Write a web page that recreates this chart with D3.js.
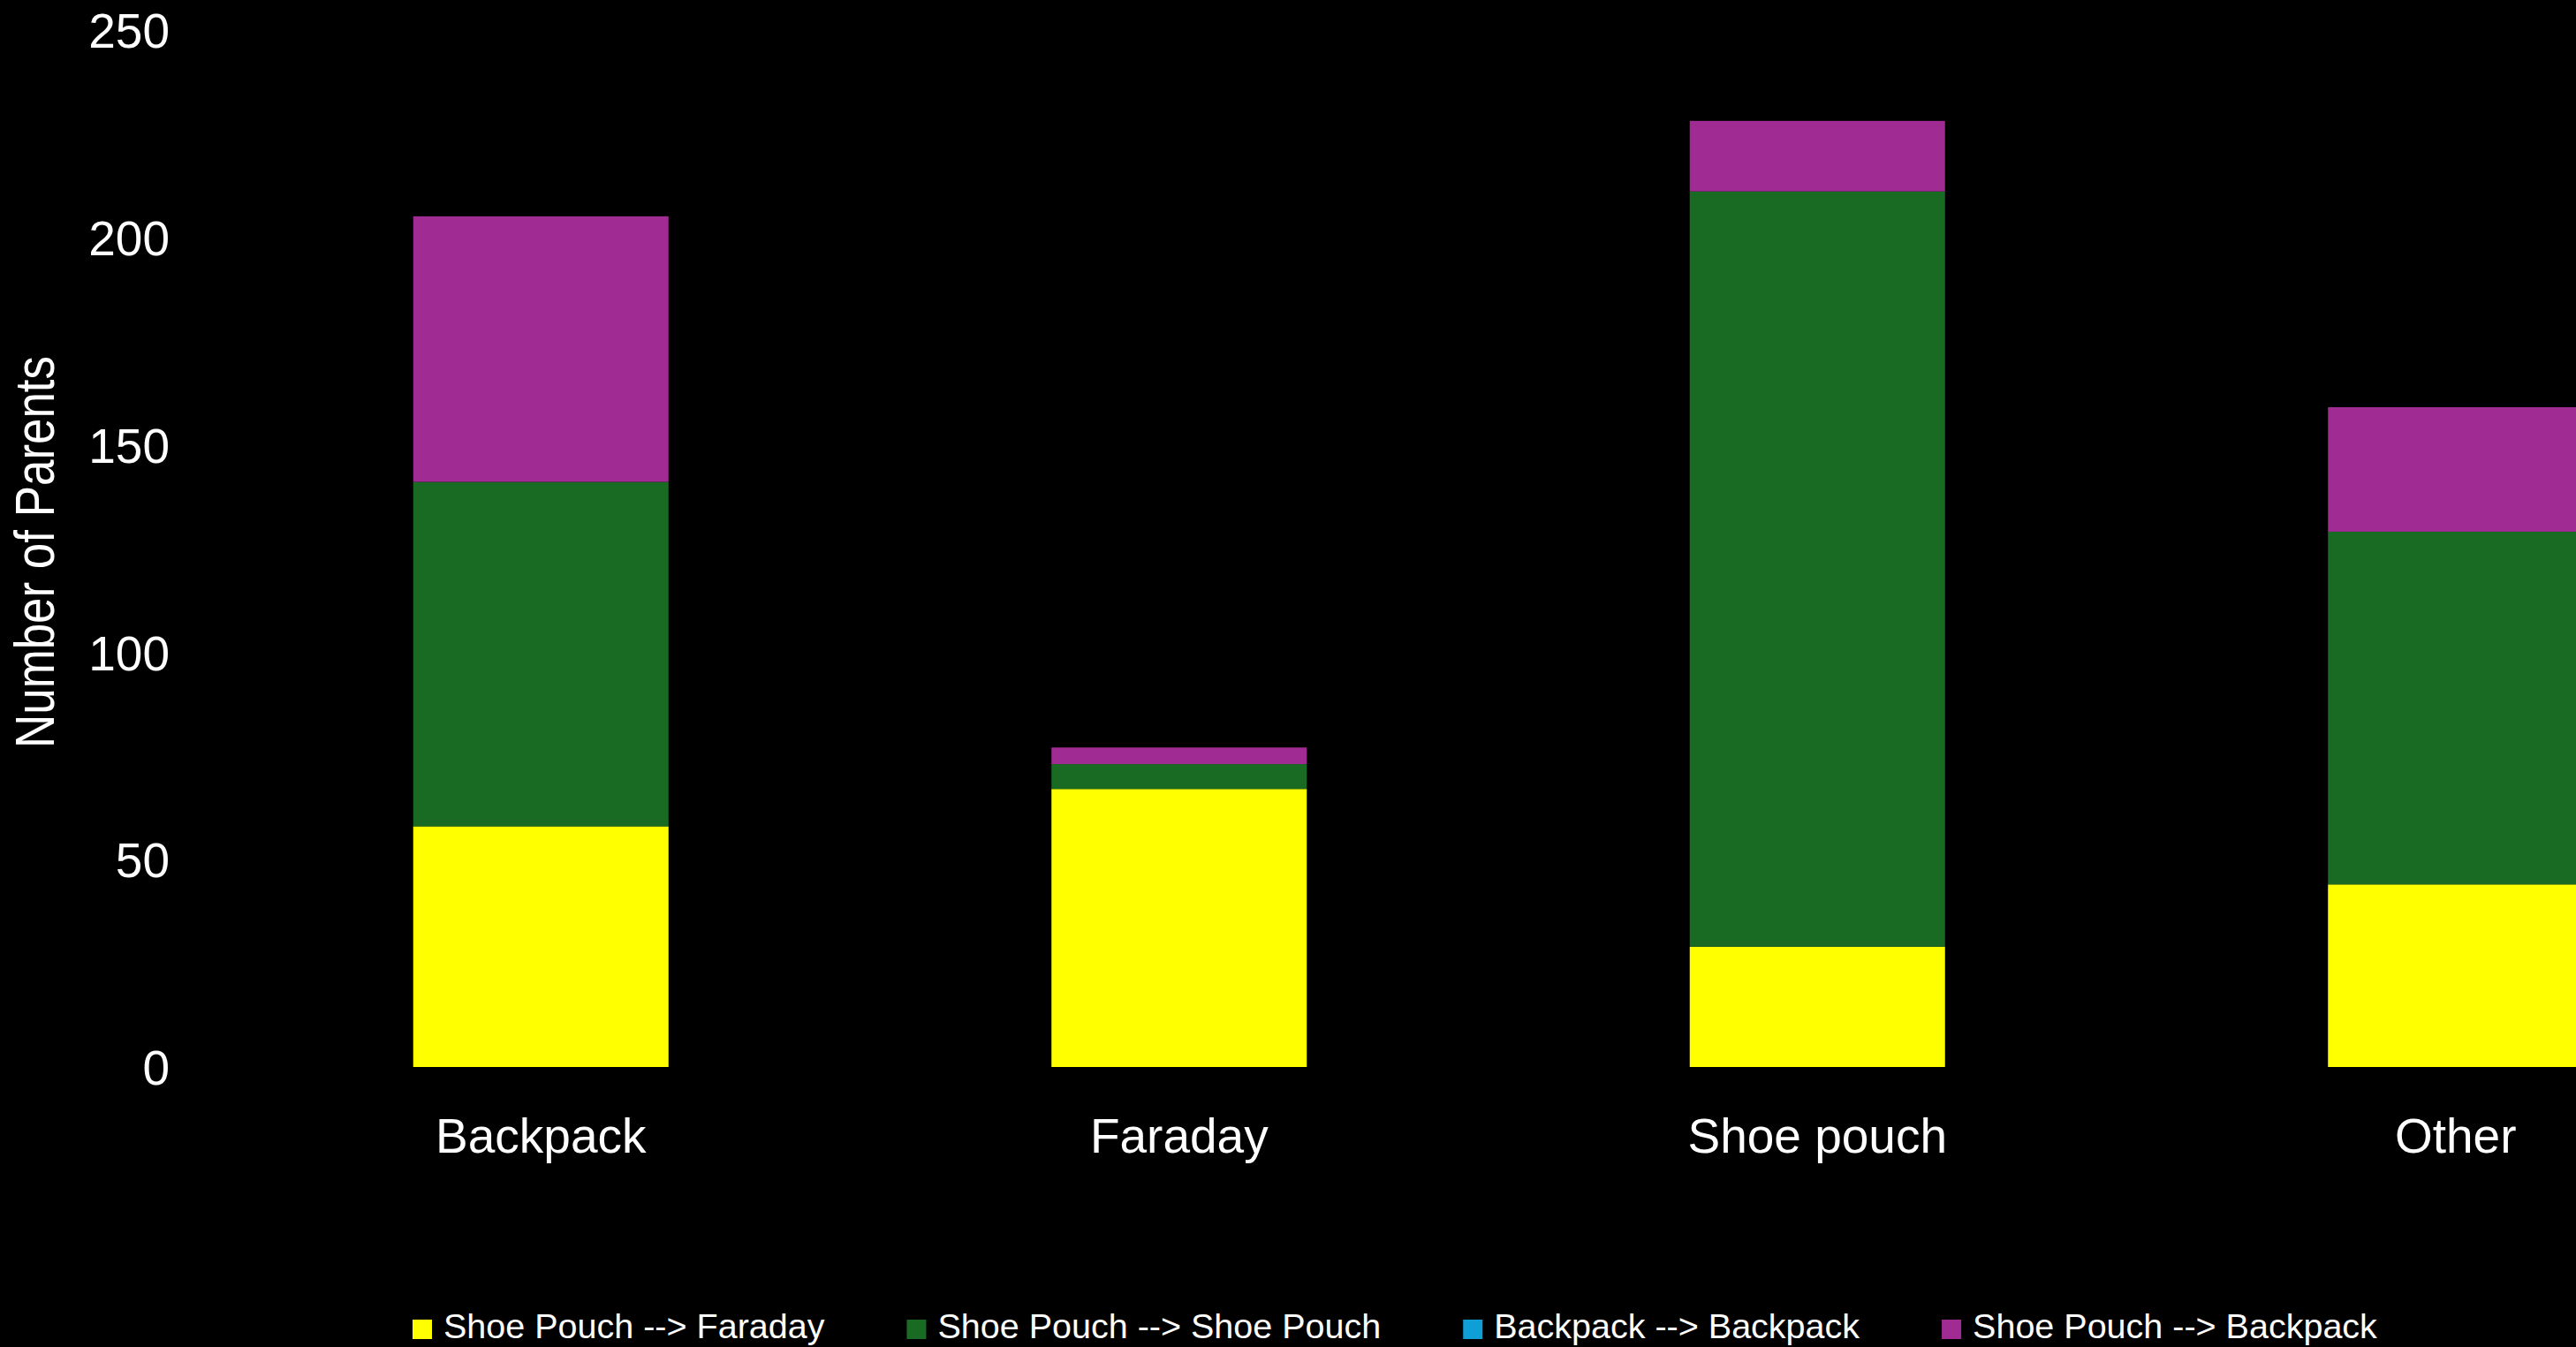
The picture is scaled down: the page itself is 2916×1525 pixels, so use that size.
<!DOCTYPE html>
<html>
<head>
<meta charset="utf-8">
<script src="https://cdn.jsdelivr.net/npm/d3@7"></script>
<style>
  html, body { margin: 0; padding: 0; background: #000; overflow: hidden; }
  svg { display: block; }
</style>
</head>
<body>
<svg id="chart" width="2916" height="1525"></svg>
<script>
// ---- data ----
const categories = ["Backpack", "Faraday", "Shoe pouch", "Other"];
const seriesNames = ["Shoe Pouch --> Faraday", "Shoe Pouch --> Shoe Pouch", "Backpack --> Backpack", "Shoe Pouch --> Backpack"];
const shoePouchToFaraday   = [58, 67, 29, 44];
const shoePouchToShoePouch = [83, 6, 182, 85];
const backpackToBackpack   = [0, 0, 0, 0];
const shoePouchToBackpack  = [64, 4, 17, 30];
const seriesColors = ["#FFFF00", "#196B24", "#0F9ED5", "#A02B93"];
const yTicks = [0, 50, 100, 150, 200, 250];
const yTitle = "Number of Parents";

// ---- build table ----
const seriesValues = [shoePouchToFaraday, shoePouchToShoePouch, backpackToBackpack, shoePouchToBackpack];
const table = categories.map((c, i) => {
  const row = { category: c };
  seriesNames.forEach((s, j) => row[s] = seriesValues[j][i]);
  return row;
});
const stacked = d3.stack().keys(seriesNames)(table);

const svg = d3.select("#chart");
const font = "'Liberation Sans', Arial, sans-serif";

const x = d3.scaleBand().domain(categories).range([251, 3141]).paddingInner(0.6).paddingOuter(0.3);
const y = d3.scaleLinear().domain([0, 250]).range([1208, 33.5]);
const color = d3.scaleOrdinal().domain(seriesNames).range(seriesColors);

// bars
svg.append("g").selectAll("g")
  .data(stacked)
  .join("g")
  .attr("fill", d => color(d.key))
  .selectAll("rect")
  .data(d => d)
  .join("rect")
  .attr("x", d => x(d.data.category))
  .attr("width", x.bandwidth())
  .attr("y", d => y(d[1]))
  .attr("height", d => y(d[0]) - y(d[1]));

// y axis
const yAxis = svg.append("g")
  .attr("transform", "translate(192,0)")
  .call(d3.axisLeft(y).tickValues(yTicks).tickSize(0).tickPadding(0));
yAxis.select(".domain").remove();
yAxis.selectAll("text")
  .attr("fill", "#ffffff")
  .attr("font-family", font)
  .attr("font-size", 55)
  .attr("dy", "0.36em");

// x axis
const xAxis = svg.append("g")
  .attr("transform", "translate(0,1208)")
  .call(d3.axisBottom(x).tickSize(0).tickPadding(0));
xAxis.select(".domain").remove();
xAxis.selectAll("text")
  .attr("fill", "#ffffff")
  .attr("font-family", font)
  .attr("font-size", 55)
  .attr("dy", null)
  .attr("y", 97);

// y title
svg.append("text")
  .attr("transform", "translate(61,625) rotate(-90)")
  .attr("text-anchor", "middle")
  .attr("fill", "#ffffff")
  .attr("font-family", font)
  .attr("font-size", 63)
  .attr("textLength", 444)
  .attr("lengthAdjust", "spacingAndGlyphs")
  .text(yTitle);

// legend
const legend = svg.append("g");
let lx = 467;
seriesNames.forEach((name, i) => {
  const g = legend.append("g");
  g.append("rect")
    .attr("x", lx).attr("y", 1494)
    .attr("width", 22).attr("height", 22)
    .attr("fill", color(name));
  const t = g.append("text")
    .attr("x", lx + 35).attr("y", 1515)
    .attr("fill", "#ffffff")
    .attr("font-family", font)
    .attr("font-size", 39.5)
    .text(name);
  const w = t.node().getComputedTextLength();
  lx = lx + 35 + w + 93;
});
</script>
</body>
</html>
